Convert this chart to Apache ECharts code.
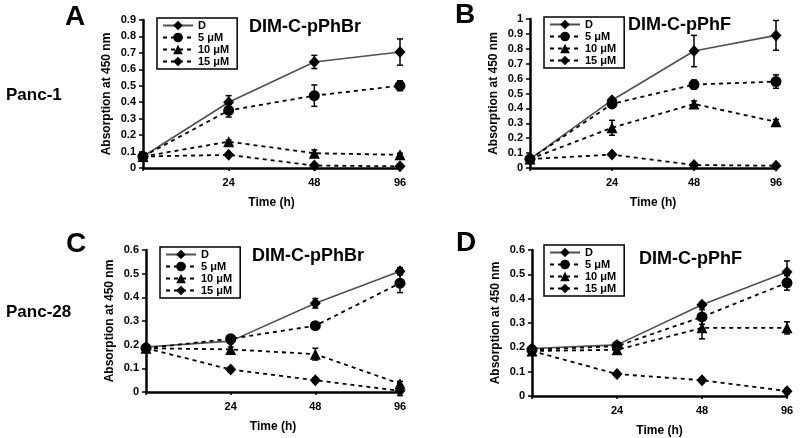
<!DOCTYPE html>
<html><head><meta charset="utf-8">
<script src="https://cdn.jsdelivr.net/npm/echarts@6/dist/echarts.min.js"></script>
<style>html,body{margin:0;padding:0;background:#fff}#c{width:800px;height:438px}</style>
</head><body><div id="c"></div>
<script>
const timeLabels = ['', '24', '48', '96'];
const seriesNames = ['D', '5 μM', '10 μM', '15 μM'];

// Panel A: Panc-1, DIM-C-pPhBr
const aD   = [0.07, 0.40, 0.645, 0.705];
const a5   = [0.07, 0.35, 0.44, 0.50];
const a10  = [0.07, 0.16, 0.09, 0.08];
const a15  = [0.07, 0.08, 0.015, 0.01];
const aErrD  = [0, 0.04, 0.04, 0.08];
const aErr5  = [0, 0.04, 0.065, 0.03];
const aErr10 = [0, 0.01, 0.02, 0.01];
const aErr15 = [0, 0, 0.01, 0.01];

// Panel B: Panc-1, DIM-C-pPhF
const bD   = [0.06, 0.455, 0.785, 0.89];
const b5   = [0.06, 0.43, 0.56, 0.58];
const b10  = [0.06, 0.27, 0.43, 0.31];
const b15  = [0.06, 0.09, 0.02, 0.015];
const bErrD  = [0, 0.01, 0.105, 0.10];
const bErr5  = [0, 0.01, 0.03, 0.045];
const bErr10 = [0, 0.05, 0.02, 0.015];
const bErr15 = [0, 0.01, 0.01, 0.01];

// Panel C: Panc-28, DIM-C-pPhBr
const cD   = [0.19, 0.215, 0.375, 0.51];
const c5   = [0.185, 0.225, 0.28, 0.46];
const c10  = [0.185, 0.18, 0.16, 0.035];
const c15  = [0.185, 0.095, 0.05, 0.005];
const cErrD  = [0.01, 0.01, 0.02, 0.015];
const cErr5  = [0.01, 0.01, 0.01, 0.04];
const cErr10 = [0.01, 0.01, 0.025, 0.01];
const cErr15 = [0.01, 0.01, 0.01, 0.02];

// Panel D: Panc-28, DIM-C-pPhF
const dD   = [0.195, 0.21, 0.375, 0.51];
const d5   = [0.19, 0.205, 0.325, 0.465];
const d10  = [0.185, 0.19, 0.28, 0.28];
const d15  = [0.185, 0.09, 0.065, 0.02];
const dErrD  = [0.01, 0.01, 0.01, 0.045];
const dErr5  = [0.01, 0.01, 0.03, 0.03];
const dErr10 = [0, 0.01, 0.045, 0.025];
const dErr15 = [0, 0.01, 0.01, 0.01];

const panelMax = [0.9, 1.0, 0.6, 0.6];

const panels = [
  {vals:[aD,a5,a10,a15], errs:[aErrD,aErr5,aErr10,aErr15]},
  {vals:[bD,b5,b10,b15], errs:[bErrD,bErr5,bErr10,bErr15]},
  {vals:[cD,c5,c10,c15], errs:[cErrD,cErr5,cErr10,cErr15]},
  {vals:[dD,d5,d10,d15], errs:[dErrD,dErr5,dErr10,dErr15]}
];

const FF = 'Liberation Sans, Arial, sans-serif';
const grids = [
  {left:143, top:20, width:257, height:148},
  {left:530, top:19, width:246, height:149},
  {left:146, top:250, width:254, height:142},
  {left:532, top:250, width:255, height:148}
];
const legendPos = [
  {left:157, top:18},
  {left:544, top:17},
  {left:160, top:247},
  {left:544, top:245}
];

const symbols = ['diamond', 'circle', 'triangle', 'diamond'];
const symSizes = [[11,12], 11, 11, [11,12]];

const xAxes = grids.map((g, i) => ({
  type:'category', gridIndex:i, data:timeLabels, boundaryGap:false,
  name:'Time (h)', nameLocation:'middle', nameGap:29,
  nameTextStyle:{fontFamily:FF, fontWeight:'bold', fontSize:12, color:'#000'},
  axisLine:{lineStyle:{color:'#000', width:2.5}},
  axisTick:{show:true, length:3, lineStyle:{color:'#000', width:1.5}},
  axisLabel:{fontFamily:FF, fontWeight:'bold', fontSize:11, color:'#000', margin:9}
}));
const yAxes = grids.map((g, i) => ({
  type:'value', gridIndex:i, min:0, max:panelMax[i], interval:0.1,
  name:'Absorption at 450 nm', nameLocation:'middle', nameGap:30,
  nameTextStyle:{fontFamily:FF, fontWeight:'bold', fontSize:12, color:'#000'},
  axisLine:{show:true, lineStyle:{color:'#000', width:2.5}},
  axisTick:{show:true, length:4, lineStyle:{color:'#000', width:1.5}},
  splitLine:{show:false},
  axisLabel:{fontFamily:FF, fontWeight:'bold', fontSize:11, color:'#000', margin:7,
    formatter: v => String(+(+v).toFixed(1))}
}));

function renderErr(params, api) {
  const x = api.value(0), lo = api.value(1), hi = api.value(2);
  const p1 = api.coord([x, hi]), p2 = api.coord([x, lo]);
  const w = 3;
  const st = {stroke:'#000', lineWidth:1.5};
  return {type:'group', children:[
    {type:'line', shape:{x1:p1[0], y1:p1[1], x2:p2[0], y2:p2[1]}, style:st},
    {type:'line', shape:{x1:p1[0]-w, y1:p1[1], x2:p1[0]+w, y2:p1[1]}, style:st},
    {type:'line', shape:{x1:p2[0]-w, y1:p2[1], x2:p2[0]+w, y2:p2[1]}, style:st}
  ]};
}

const series = [];
panels.forEach((p, gi) => {
  const errData = [];
  p.vals.forEach((arr, si) => {
    arr.forEach((v, k) => {
      const e = p.errs[si][k];
      if (e > 0) errData.push([k, v - e, v + e]);
    });
  });
  series.push({
    type:'custom', xAxisIndex:gi, yAxisIndex:gi, renderItem:renderErr,
    data:errData, encode:{x:0, y:[1,2]}, z:1, silent:true
  });
  p.vals.forEach((arr, si) => {
    series.push({
      type:'line', name:seriesNames[si], xAxisIndex:gi, yAxisIndex:gi, data:arr,
      symbol:symbols[si], symbolSize:symSizes[si], showAllSymbol:true,
      itemStyle:{color:'#000'},
      lineStyle: si === 0 ? {color:'#505050', width:1.6, type:'solid'}
                          : {color:'#000', width:1.8, type:[4,4]},
      z: 3 + si, animation:false
    });
  });
});

const legends = legendPos.map(lp => ({
  data:seriesNames, orient:'vertical', left:lp.left, top:lp.top,
  itemWidth:30, itemHeight:12, itemGap:1,
  padding:[2,8,2,5], borderColor:'#000', borderWidth:1.5, backgroundColor:'#fff',
  textStyle:{fontFamily:FF, fontWeight:'bold', fontSize:11, color:'#000'},
  selectedMode:false
}));

function t(text, left, top, size) {
  return {text, left, top, padding:0,
    textStyle:{fontFamily:FF, fontWeight:'bold', fontSize:size, color:'#000'}};
}
const titles = [
  t('A', 65, 3, 28), t('B', 455, 1, 28), t('C', 66, 230, 28), t('D', 456, 229, 28),
  t('Panc-1', 6, 87, 17), t('Panc-28', 6, 304, 17),
  t('DIM-C-pPhBr', 249, 18, 18), t('DIM-C-pPhF', 628, 16, 18),
  t('DIM-C-pPhBr', 252, 247, 18), t('DIM-C-pPhF', 639, 250, 18)
];

const chart = echarts.init(document.getElementById('c'), null, {renderer:'canvas'});
chart.setOption({
  animation:false,
  backgroundColor:'#fff',
  title:titles,
  legend:legends,
  grid:grids,
  xAxis:xAxes,
  yAxis:yAxes,
  series:series
});
</script></body></html>
